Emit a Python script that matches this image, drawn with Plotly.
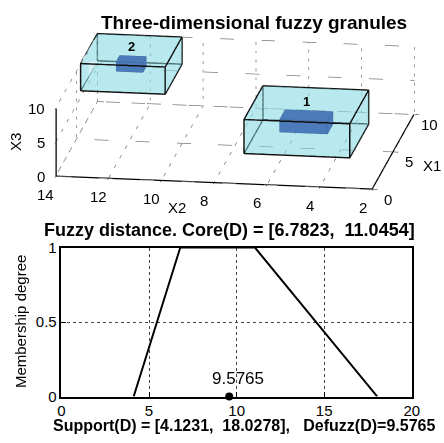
import plotly.graph_objects as go

# ---------------- data ----------------
# granule boxes, ranges per coordinate [lo, hi]
g1_support_x1 = [4.0, 8.5]
g1_support_x2 = [3.5, 7.5]
g1_support_x3 = [0.0, 5.0]
g1_core_x1 = [5.6, 6.9]
g1_core_x2 = [4.6, 6.4]
g1_core_x3 = [1.6, 3.4]

g2_support_x1 = [6.0, 10.0]
g2_support_x2 = [10.8, 14.0]
g2_support_x3 = [6.0, 10.0]
g2_core_x1 = [7.6, 8.4]
g2_core_x2 = [11.9, 12.9]
g2_core_x3 = [7.3, 8.7]

granule_names = ["1", "2"]

x1_ticks = [0, 5, 10]
x2_ticks = [2, 4, 6, 8, 10, 12, 14]
x3_ticks = [0, 5, 10]

# fuzzy distance membership function
d_values = [4.1231, 6.7823, 11.0454, 18.0278]
d_membership = [0, 1, 1, 0]
defuzz_value = 9.5765
dist_ticks = [0, 5, 10, 15, 20]
mu_ticks = [0, 0.5, 1]
mu_ticktext = ["0", "0.5", "1"]

FONT = "Arial, Liberation Sans, Helvetica, sans-serif"
X1R, X2R, X3R = [0, 10], [2, 14], [0, 10]
EPS = 1e-6   # keep label anchors just inside the axis range
IN = 0.02    # keep axis lines just inside the clipped range

def box(x1r, x2r, x3r):
    X, Y, Z = [], [], []
    for z in (x3r[0], x3r[1]):
        for (a, b) in ((x1r[0], x2r[0]), (x1r[1], x2r[0]), (x1r[1], x2r[1]), (x1r[0], x2r[1])):
            X.append(a); Y.append(b); Z.append(z)
    return X, Y, Z

I = [0, 0, 4, 4, 0, 0, 1, 1, 2, 2, 3, 3]
J = [1, 2, 5, 6, 1, 5, 2, 6, 3, 7, 0, 4]
K = [2, 3, 6, 7, 5, 4, 6, 5, 7, 6, 4, 7]
EDGE = [0, 1, 2, 3, 0, 4, 5, 1, 5, 6, 2, 6, 7, 3, 7, 4]

fig = go.Figure()

# dotted grid on the three back planes
gx, gy, gz = [], [], []
def seg(p, q, lx=gx, ly=gy, lz=gz):
    lx.extend([p[0], q[0], None]); ly.extend([p[1], q[1], None]); lz.extend([p[2], q[2], None])
for t in x2_ticks:
    seg((X1R[0], t, X3R[0]), (X1R[1], t, X3R[0]))
    seg((X1R[1], t, X3R[0]), (X1R[1], t, X3R[1]))
for t in x1_ticks:
    seg((t, X2R[0], X3R[0]), (t, X2R[1], X3R[0]))
    seg((t, X2R[1], X3R[0]), (t, X2R[1], X3R[1]))
for t in x3_ticks:
    seg((X1R[1], X2R[0], t), (X1R[1], X2R[1], t))
    seg((X1R[0], X2R[1], t), (X1R[1], X2R[1], t))
fig.add_trace(go.Scatter3d(x=gx, y=gy, z=gz, mode="lines", connectgaps=False,
                           line=dict(color="#7a7a7a", width=1.5, dash="dot"),
                           hoverinfo="skip", showlegend=False))

# solid axis lines (X2 front edge, X1 right edge, X3 left edge)
a1, a2, a3 = X1R[0] + IN, X2R[0] + IN, X3R[0] + IN
b2, b1, b3 = X2R[1] - IN, X1R[1] - IN, X3R[1] - IN
ax_x, ax_y, ax_z = [], [], []
seg((a1, a2, a3), (a1, b2, a3), ax_x, ax_y, ax_z)
seg((a1, a2, a3), (b1, a2, a3), ax_x, ax_y, ax_z)
seg((a1, b2, a3), (a1, b2, b3), ax_x, ax_y, ax_z)
fig.add_trace(go.Scatter3d(x=ax_x, y=ax_y, z=ax_z, mode="lines", connectgaps=False,
                           line=dict(color="black", width=2.5), hoverinfo="skip", showlegend=False))

def add_box(x1r, x2r, x3r, face, opacity, edge, ew):
    X, Y, Z = box(x1r, x2r, x3r)
    fig.add_trace(go.Mesh3d(x=X, y=Y, z=Z, i=I, j=J, k=K, color=face, opacity=opacity,
                            flatshading=True, lighting=dict(ambient=1, diffuse=0, specular=0, roughness=1, fresnel=0),
                            hoverinfo="skip", showscale=False))
    fig.add_trace(go.Scatter3d(x=[X[e] for e in EDGE], y=[Y[e] for e in EDGE], z=[Z[e] for e in EDGE],
                               mode="lines", line=dict(color=edge, width=ew), hoverinfo="skip", showlegend=False))

add_box(g1_support_x1, g1_support_x2, g1_support_x3, "#8fdde6", 0.4, "#111111", 3)
add_box(g1_core_x1, g1_core_x2, g1_core_x3, "#1f3a9e", 1.0, "#14246e", 2)
add_box(g2_support_x1, g2_support_x2, g2_support_x3, "#8fdde6", 0.4, "#111111", 3)
add_box(g2_core_x1, g2_core_x2, g2_core_x3, "#1f3a9e", 1.0, "#14246e", 2)

# 2D membership plot
fig.add_trace(go.Scatter(x=d_values, y=d_membership, mode="lines",
                         line=dict(color="black", width=2), hoverinfo="skip", showlegend=False))
fig.add_trace(go.Scatter(x=[defuzz_value], y=[0], mode="markers",
                         marker=dict(color="black", size=8), hoverinfo="skip", showlegend=False, cliponaxis=False))

ax3 = dict(showbackground=False, showgrid=False, showline=False,
           ticks="outside", tickcolor="black", ticklen=5, showspikes=False, zeroline=False,
           showticklabels=False, title=dict(text=""))

TF = dict(size=15, color="black", family=FONT)
sann = []
for t in x2_ticks:
    sann.append(dict(x=X1R[0] + EPS, y=min(max(t, X2R[0] + EPS), X2R[1] - EPS), z=X3R[0] + EPS, text=str(t),
                     showarrow=False, xshift=-10, yshift=-18, font=TF))
for t in x3_ticks:
    sann.append(dict(x=X1R[0] + EPS, y=X2R[1] - EPS, z=min(max(t, X3R[0] + EPS), X3R[1] - EPS), text=str(t),
                     showarrow=False, xanchor="right", xshift=-9, font=TF))
for t in x1_ticks:
    sann.append(dict(x=min(max(t, X1R[0] + EPS), X1R[1] - EPS), y=X2R[0] + EPS, z=X3R[0] + EPS, text=str(t),
                     showarrow=False, xshift=15, yshift=-10, font=TF))
sann.append(dict(x=X1R[0] + EPS, y=9, z=X3R[0] + EPS, text="X2", showarrow=False, xshift=-11, yshift=-26, font=TF))
sann.append(dict(x=5, y=X2R[0] + EPS, z=X3R[0] + EPS, text="X1", showarrow=False, xshift=38, yshift=-14, font=TF))
sann.append(dict(x=X1R[0] + EPS, y=X2R[1] - EPS, z=5, text="X3", showarrow=False, textangle=-90,
                 xshift=-40, font=TF))
sup = [(g1_support_x1, g1_support_x2, g1_support_x3), (g2_support_x1, g2_support_x2, g2_support_x3)]
for n, s in zip(granule_names, sup):
    sann.append(dict(x=sum(s[0]) / 2, y=sum(s[1]) / 2, z=min(s[2][1], X3R[1] - EPS), text="<b>%s</b>" % n,
                     showarrow=False, yshift=3, font=dict(size=13, color="black", family=FONT)))

k = 3.43
fig.update_layout(
    width=444, height=443, margin=dict(l=0, r=0, t=0, b=0),
    paper_bgcolor="white", plot_bgcolor="white", showlegend=False,
    font=dict(family=FONT, color="black", size=15),
    scene=dict(
        domain=dict(x=[0.07, 1.0], y=[0.54, 0.98]),
        xaxis=dict(ax3, range=X1R, tickvals=x1_ticks),
        yaxis=dict(ax3, range=X2R, tickvals=x2_ticks),
        zaxis=dict(ax3, range=X3R, tickvals=x3_ticks),
        aspectmode="manual", aspectratio=dict(x=0.874 * k, y=1.0 * k, z=0.22 * k),
        camera=dict(eye=dict(x=-0.952 * 2, y=-0.144 * 2, z=0.27 * 2), up=dict(x=0, y=0, z=1),
                    center=dict(x=0, y=0, z=0), projection=dict(type="orthographic")),
        annotations=sann,
    ),
    xaxis=dict(domain=[0.133, 0.944], anchor="y", range=[0, 20], tickvals=dist_ticks,
               ticks="inside", ticklen=5, tickcolor="black", showline=True, mirror=True,
               linecolor="black", linewidth=1.5, showgrid=True, gridcolor="#444444",
               griddash="dot", gridwidth=1, zeroline=False, tickfont=TF),
    yaxis=dict(domain=[0.0903, 0.440], anchor="x", range=[0, 1], tickvals=mu_ticks, ticktext=mu_ticktext,
               ticks="inside", ticklen=5, tickcolor="black", showline=True, mirror=True,
               linecolor="black", linewidth=1.5, showgrid=True, gridcolor="#444444",
               griddash="dot", gridwidth=1, zeroline=False, tickfont=TF),
    annotations=[
        dict(text="<b>Three-dimensional fuzzy granules</b>", x=257 / 444, y=1 - 14 / 443, xref="paper", yref="paper",
             xanchor="center", yanchor="middle", showarrow=False,
             font=dict(size=19, color="black", family=FONT)),
        dict(text="<b>Fuzzy distance. Core(D) = [6.7823,\u00a0 11.0454]</b>", x=0.523, y=1 - 230 / 443,
             xref="paper", yref="paper", xanchor="center", yanchor="middle", showarrow=False,
             font=dict(size=18, color="black", family=FONT)),
        dict(text="<b>Support(D) = [4.1231,\u00a0 18.0278],\u00a0\u00a0 Defuzz(D)=9.5765</b>", x=247 / 444,
             y=1 - 433 / 443, xref="paper", yref="paper", xanchor="center", yanchor="middle", showarrow=False,
             font=dict(size=16, color="black", family=FONT)),
        dict(text="Membership degree", textangle=-90, x=17 / 444, y=1 - 325 / 443, xref="paper", yref="paper",
             xanchor="center", yanchor="middle", showarrow=False, font=TF),
        dict(text="%.4f" % defuzz_value, x=defuzz_value, y=0, xref="x", yref="y", showarrow=False,
             xshift=9, yshift=18, font=dict(size=17, color="black", family=FONT)),
    ],
)

fig.write_html("out.html")
